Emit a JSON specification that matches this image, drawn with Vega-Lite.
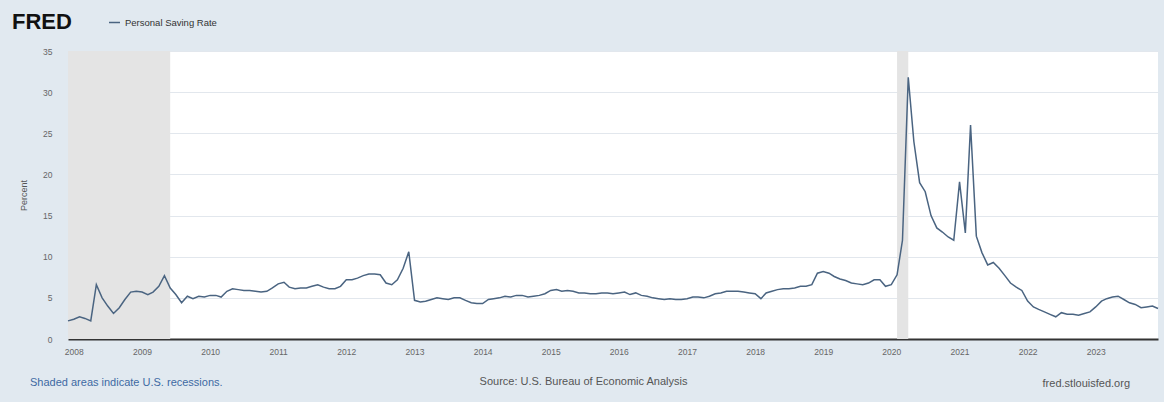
{
  "$schema": "https://vega.github.io/schema/vega-lite/v6.json",
  "autosize": {"type": "none"},
  "padding": {"left": 68, "top": 51, "right": 6, "bottom": 63},
  "width": 1090,
  "height": 288,
  "title": {
    "text": "fred.stlouisfed.org",
    "orient": "bottom",
    "anchor": "end",
    "frame": "group",
    "fontSize": 11,
    "fontWeight": "normal",
    "color": "#555555",
    "dx": -28,
    "dy": -14
  },
  "datasets": {
    "recessions": [
      {"start": "2007-12-01", "end": "2009-06-01"},
      {"start": "2020-02-01", "end": "2020-04-01"}
    ],
    "psavert": [
      {"date": "2007-12-01", "rate": 2.2},
      {"date": "2008-01-01", "rate": 2.4},
      {"date": "2008-02-01", "rate": 2.7},
      {"date": "2008-03-01", "rate": 2.5},
      {"date": "2008-04-01", "rate": 2.2},
      {"date": "2008-05-01", "rate": 6.6},
      {"date": "2008-06-01", "rate": 5.0},
      {"date": "2008-07-01", "rate": 4.0},
      {"date": "2008-08-01", "rate": 3.1},
      {"date": "2008-09-01", "rate": 3.8},
      {"date": "2008-10-01", "rate": 4.8},
      {"date": "2008-11-01", "rate": 5.7},
      {"date": "2008-12-01", "rate": 5.8},
      {"date": "2009-01-01", "rate": 5.7},
      {"date": "2009-02-01", "rate": 5.4},
      {"date": "2009-03-01", "rate": 5.7},
      {"date": "2009-04-01", "rate": 6.4},
      {"date": "2009-05-01", "rate": 7.7},
      {"date": "2009-06-01", "rate": 6.2},
      {"date": "2009-07-01", "rate": 5.4},
      {"date": "2009-08-01", "rate": 4.4},
      {"date": "2009-09-01", "rate": 5.2},
      {"date": "2009-10-01", "rate": 4.9},
      {"date": "2009-11-01", "rate": 5.2},
      {"date": "2009-12-01", "rate": 5.1},
      {"date": "2010-01-01", "rate": 5.3},
      {"date": "2010-02-01", "rate": 5.3},
      {"date": "2010-03-01", "rate": 5.1},
      {"date": "2010-04-01", "rate": 5.8},
      {"date": "2010-05-01", "rate": 6.1},
      {"date": "2010-06-01", "rate": 6.0},
      {"date": "2010-07-01", "rate": 5.9},
      {"date": "2010-08-01", "rate": 5.9},
      {"date": "2010-09-01", "rate": 5.8},
      {"date": "2010-10-01", "rate": 5.7},
      {"date": "2010-11-01", "rate": 5.8},
      {"date": "2010-12-01", "rate": 6.2},
      {"date": "2011-01-01", "rate": 6.7},
      {"date": "2011-02-01", "rate": 6.9},
      {"date": "2011-03-01", "rate": 6.3},
      {"date": "2011-04-01", "rate": 6.1},
      {"date": "2011-05-01", "rate": 6.2},
      {"date": "2011-06-01", "rate": 6.2},
      {"date": "2011-07-01", "rate": 6.4},
      {"date": "2011-08-01", "rate": 6.6},
      {"date": "2011-09-01", "rate": 6.3},
      {"date": "2011-10-01", "rate": 6.1},
      {"date": "2011-11-01", "rate": 6.1},
      {"date": "2011-12-01", "rate": 6.4},
      {"date": "2012-01-01", "rate": 7.2},
      {"date": "2012-02-01", "rate": 7.2},
      {"date": "2012-03-01", "rate": 7.4},
      {"date": "2012-04-01", "rate": 7.7},
      {"date": "2012-05-01", "rate": 7.9},
      {"date": "2012-06-01", "rate": 7.9},
      {"date": "2012-07-01", "rate": 7.8},
      {"date": "2012-08-01", "rate": 6.8},
      {"date": "2012-09-01", "rate": 6.6},
      {"date": "2012-10-01", "rate": 7.2},
      {"date": "2012-11-01", "rate": 8.6},
      {"date": "2012-12-01", "rate": 10.6},
      {"date": "2013-01-01", "rate": 4.7},
      {"date": "2013-02-01", "rate": 4.5},
      {"date": "2013-03-01", "rate": 4.6},
      {"date": "2013-04-01", "rate": 4.8},
      {"date": "2013-05-01", "rate": 5.0},
      {"date": "2013-06-01", "rate": 4.9},
      {"date": "2013-07-01", "rate": 4.8},
      {"date": "2013-08-01", "rate": 5.0},
      {"date": "2013-09-01", "rate": 5.0},
      {"date": "2013-10-01", "rate": 4.7},
      {"date": "2013-11-01", "rate": 4.4},
      {"date": "2013-12-01", "rate": 4.3},
      {"date": "2014-01-01", "rate": 4.3},
      {"date": "2014-02-01", "rate": 4.8},
      {"date": "2014-03-01", "rate": 4.9},
      {"date": "2014-04-01", "rate": 5.0},
      {"date": "2014-05-01", "rate": 5.2},
      {"date": "2014-06-01", "rate": 5.1},
      {"date": "2014-07-01", "rate": 5.3},
      {"date": "2014-08-01", "rate": 5.3},
      {"date": "2014-09-01", "rate": 5.1},
      {"date": "2014-10-01", "rate": 5.2},
      {"date": "2014-11-01", "rate": 5.3},
      {"date": "2014-12-01", "rate": 5.5},
      {"date": "2015-01-01", "rate": 5.9},
      {"date": "2015-02-01", "rate": 6.0},
      {"date": "2015-03-01", "rate": 5.8},
      {"date": "2015-04-01", "rate": 5.9},
      {"date": "2015-05-01", "rate": 5.8},
      {"date": "2015-06-01", "rate": 5.6},
      {"date": "2015-07-01", "rate": 5.6},
      {"date": "2015-08-01", "rate": 5.5},
      {"date": "2015-09-01", "rate": 5.5},
      {"date": "2015-10-01", "rate": 5.6},
      {"date": "2015-11-01", "rate": 5.6},
      {"date": "2015-12-01", "rate": 5.5},
      {"date": "2016-01-01", "rate": 5.6},
      {"date": "2016-02-01", "rate": 5.7},
      {"date": "2016-03-01", "rate": 5.4},
      {"date": "2016-04-01", "rate": 5.6},
      {"date": "2016-05-01", "rate": 5.3},
      {"date": "2016-06-01", "rate": 5.2},
      {"date": "2016-07-01", "rate": 5.0},
      {"date": "2016-08-01", "rate": 4.9},
      {"date": "2016-09-01", "rate": 4.8},
      {"date": "2016-10-01", "rate": 4.9},
      {"date": "2016-11-01", "rate": 4.8},
      {"date": "2016-12-01", "rate": 4.8},
      {"date": "2017-01-01", "rate": 4.9},
      {"date": "2017-02-01", "rate": 5.1},
      {"date": "2017-03-01", "rate": 5.1},
      {"date": "2017-04-01", "rate": 5.0},
      {"date": "2017-05-01", "rate": 5.2},
      {"date": "2017-06-01", "rate": 5.5},
      {"date": "2017-07-01", "rate": 5.6},
      {"date": "2017-08-01", "rate": 5.8},
      {"date": "2017-09-01", "rate": 5.8},
      {"date": "2017-10-01", "rate": 5.8},
      {"date": "2017-11-01", "rate": 5.7},
      {"date": "2017-12-01", "rate": 5.6},
      {"date": "2018-01-01", "rate": 5.5},
      {"date": "2018-02-01", "rate": 4.9},
      {"date": "2018-03-01", "rate": 5.6},
      {"date": "2018-04-01", "rate": 5.8},
      {"date": "2018-05-01", "rate": 6.0},
      {"date": "2018-06-01", "rate": 6.1},
      {"date": "2018-07-01", "rate": 6.1},
      {"date": "2018-08-01", "rate": 6.2},
      {"date": "2018-09-01", "rate": 6.4},
      {"date": "2018-10-01", "rate": 6.4},
      {"date": "2018-11-01", "rate": 6.6},
      {"date": "2018-12-01", "rate": 8.0},
      {"date": "2019-01-01", "rate": 8.2},
      {"date": "2019-02-01", "rate": 8.0},
      {"date": "2019-03-01", "rate": 7.6},
      {"date": "2019-04-01", "rate": 7.3},
      {"date": "2019-05-01", "rate": 7.1},
      {"date": "2019-06-01", "rate": 6.8},
      {"date": "2019-07-01", "rate": 6.7},
      {"date": "2019-08-01", "rate": 6.6},
      {"date": "2019-09-01", "rate": 6.8},
      {"date": "2019-10-01", "rate": 7.2},
      {"date": "2019-11-01", "rate": 7.2},
      {"date": "2019-12-01", "rate": 6.4},
      {"date": "2020-01-01", "rate": 6.6},
      {"date": "2020-02-01", "rate": 7.8},
      {"date": "2020-03-01", "rate": 12.0},
      {"date": "2020-04-01", "rate": 31.8},
      {"date": "2020-05-01", "rate": 24.0},
      {"date": "2020-06-01", "rate": 19.0},
      {"date": "2020-07-01", "rate": 17.9},
      {"date": "2020-08-01", "rate": 15.0},
      {"date": "2020-09-01", "rate": 13.5},
      {"date": "2020-10-01", "rate": 13.0},
      {"date": "2020-11-01", "rate": 12.4},
      {"date": "2020-12-01", "rate": 12.0},
      {"date": "2021-01-01", "rate": 19.1},
      {"date": "2021-02-01", "rate": 12.9},
      {"date": "2021-03-01", "rate": 26.0},
      {"date": "2021-04-01", "rate": 12.5},
      {"date": "2021-05-01", "rate": 10.5},
      {"date": "2021-06-01", "rate": 9.0},
      {"date": "2021-07-01", "rate": 9.3},
      {"date": "2021-08-01", "rate": 8.6},
      {"date": "2021-09-01", "rate": 7.7},
      {"date": "2021-10-01", "rate": 6.8},
      {"date": "2021-11-01", "rate": 6.3},
      {"date": "2021-12-01", "rate": 5.9},
      {"date": "2022-01-01", "rate": 4.6},
      {"date": "2022-02-01", "rate": 3.9},
      {"date": "2022-03-01", "rate": 3.6},
      {"date": "2022-04-01", "rate": 3.3},
      {"date": "2022-05-01", "rate": 3.0},
      {"date": "2022-06-01", "rate": 2.7},
      {"date": "2022-07-01", "rate": 3.2},
      {"date": "2022-08-01", "rate": 3.0},
      {"date": "2022-09-01", "rate": 3.0},
      {"date": "2022-10-01", "rate": 2.9},
      {"date": "2022-11-01", "rate": 3.1},
      {"date": "2022-12-01", "rate": 3.3},
      {"date": "2023-01-01", "rate": 3.9},
      {"date": "2023-02-01", "rate": 4.6},
      {"date": "2023-03-01", "rate": 4.9},
      {"date": "2023-04-01", "rate": 5.1},
      {"date": "2023-05-01", "rate": 5.2},
      {"date": "2023-06-01", "rate": 4.8},
      {"date": "2023-07-01", "rate": 4.4},
      {"date": "2023-08-01", "rate": 4.2},
      {"date": "2023-09-01", "rate": 3.8},
      {"date": "2023-10-01", "rate": 3.9},
      {"date": "2023-11-01", "rate": 4.0},
      {"date": "2023-12-01", "rate": 3.7}
    ]
  },
  "layer": [
    {
      "data": {"name": "recessions"},
      "mark": {"type": "rect"},
      "encoding": {
        "x": {"field": "start", "type": "temporal"},
        "x2": {"field": "end"},
        "fill": {
          "datum": "Shaded areas indicate U.S. recessions.",
          "scale": {"range": ["#e4e4e4"]},
          "legend": {
            "orient": "none",
            "legendX": -53,
            "legendY": 326,
            "title": null,
            "symbolOpacity": 0,
            "symbolSize": 1,
            "labelFontSize": 11,
            "labelColor": "#3e6aa3",
            "labelLimit": 400
          }
        }
      }
    },
    {
      "data": {"name": "psavert"},
      "mark": {"type": "line", "strokeWidth": 1.5, "interpolate": "linear"},
      "encoding": {
        "x": {
          "field": "date",
          "type": "temporal",
          "scale": {"nice": false},
          "axis": {
            "format": "%Y",
            "tickCount": {"interval": "year", "step": 1},
            "labelFontSize": 8.5,
            "labelColor": "#666666",
            "ticks": false,
            "grid": false,
            "domainColor": "#333333",
            "domainWidth": 2,
            "labelPadding": 8,
            "labelFlush": false,
            "title": "Source: U.S. Bureau of Economic Analysis",
            "titleFontSize": 11,
            "titleFontWeight": "normal",
            "titleColor": "#555555",
            "titlePadding": 20,
            "titleAnchor": "middle",
            "titleX": 515
          }
        },
        "y": {
          "field": "rate",
          "type": "quantitative",
          "scale": {"domain": [0, 35], "nice": false},
          "axis": {
            "values": [0, 5, 10, 15, 20, 25, 30, 35],
            "labelFontSize": 8.5,
            "labelColor": "#666666",
            "ticks": false,
            "domain": false,
            "grid": true,
            "gridColor": "#e2e7ed",
            "labelPadding": 16,
            "title": "Percent",
            "titleFontSize": 9,
            "titleFontWeight": "normal",
            "titleColor": "#555555",
            "titlePadding": 14
          }
        },
        "stroke": {
          "datum": "Personal Saving Rate",
          "scale": {"range": ["#4a6481"]},
          "legend": {
            "orient": "none",
            "legendX": -56,
            "legendY": -35,
            "direction": "horizontal",
            "title": "FRED",
            "titleOrient": "left",
            "titleFont": "Liberation Sans",
            "titleFontSize": 22,
            "titleFontWeight": 900,
            "titleColor": "#111111",
            "titlePadding": 36,
            "symbolType": "stroke",
            "symbolSize": 120,
            "symbolStrokeWidth": 1.5,
            "labelFontSize": 9.5,
            "labelColor": "#333333"
          }
        }
      }
    }
  ],
  "config": {
    "background": "#e1e9f0",
    "font": "Liberation Sans",
    "view": {"fill": "white", "stroke": null}
  }
}
